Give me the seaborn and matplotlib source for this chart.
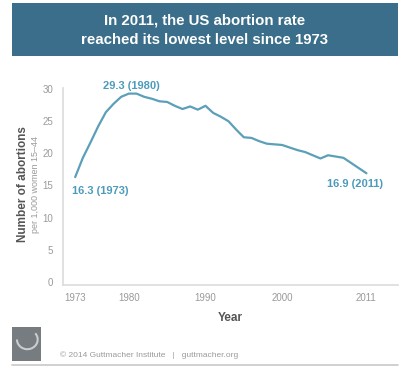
import pandas as pd
import matplotlib.pyplot as plt
import matplotlib.patches as mpatches
import seaborn as sns

# abortion rate per 1,000 women 15-44
years = list(range(1973, 2012))
rates = [16.3, 19.3, 21.7, 24.2, 26.4, 27.7, 28.8, 29.3, 29.3, 28.8,
         28.5, 28.1, 28.0, 27.4, 26.9, 27.3, 26.8, 27.4, 26.3, 25.7,
         25.0, 23.7, 22.5, 22.4, 21.9, 21.5, 21.4, 21.3, 20.9, 20.5,
         20.2, 19.7, 19.2, 19.7, 19.5, 19.3, 18.5, 17.7, 16.9]
xticks = [1973, 1980, 1990, 2000, 2011]
yticks = [0, 5, 10, 15, 20, 25, 30]
callouts = [(1980, 29.3), (1973, 16.3), (2011, 16.9)]

df = pd.DataFrame({"year": years, "rate": rates})

sns.set_style("white")
plt.rcParams['font.family'] = ['Liberation Sans', 'DejaVu Sans']

line_col = "#5c9fb8"
lab_col = "#4c9bbb"
grey = "#9a9a9a"

fig = plt.figure(figsize=(4.14, 3.88), dpi=100)
ax = fig.add_axes([0.152, 0.2655, 0.809, 0.5065])

sns.lineplot(data=df, x="year", y="rate", color=line_col, lw=1.6, ax=ax)

ax.set_xlim(1971.4, 2015.1)
ax.set_ylim(-0.5, 30.1)
ax.set_xticks(xticks)
ax.set_yticks(yticks)
ax.tick_params(axis="both", colors=grey, labelsize=7, length=0, pad=6)
ax.tick_params(axis="y", direction="in", length=3.5, width=0.7, pad=7, color="#dcdcdc")
for s in ["top", "right"]:
    ax.spines[s].set_visible(False)
for s in ["left", "bottom"]:
    ax.spines[s].set_color("#dcdcdc")
    ax.spines[s].set_linewidth(1.2)

ax.set_xlabel("Year", fontsize=8.5, fontweight="bold", color="#555555", labelpad=6)
ax.set_ylabel("")
fig.text(0.056, 0.525, "Number of abortions", rotation=90, ha="center", va="center",
         fontsize=8.5, fontweight="bold", color="#555555")
fig.text(0.085, 0.525, "per 1,000 women 15\u201344", rotation=90, ha="center", va="center",
         fontsize=6.5, color=grey)

# callout labels
ax.annotate(f"{callouts[0][1]} ({callouts[0][0]})", callouts[0], xytext=(2, 5.5),
            textcoords="offset points", ha="center", va="center",
            fontsize=8, fontweight="bold", color=lab_col)
ax.annotate(f"{callouts[1][1]} ({callouts[1][0]})", callouts[1], xytext=(-2, -10),
            textcoords="offset points", ha="left", va="center",
            fontsize=8, fontweight="bold", color=lab_col)
ax.annotate(f"{callouts[2][1]} ({callouts[2][0]})", callouts[2], xytext=(12, -7.5),
            textcoords="offset points", ha="right", va="center",
            fontsize=8, fontweight="bold", color=lab_col)

# title banner
fig.patches.append(mpatches.Rectangle((0.029, 0.856), 0.932, 0.136, transform=fig.transFigure,
                                      facecolor="#3a6e8a", edgecolor="none"))
fig.text(0.495, 0.922, "In 2011, the US abortion rate\nreached its lowest level since 1973",
         ha="center", va="center", color="white", fontsize=10.8, fontweight="bold",
         linespacing=1.45)

# footer
fig.patches.append(mpatches.Rectangle((0.029, 0.07), 0.07, 0.088, transform=fig.transFigure,
                                      facecolor="#767c7f", edgecolor="none"))
fig.patches.append(mpatches.Arc((0.066, 0.125), 0.05, 0.05, theta1=180, theta2=40,
                                transform=fig.transFigure, color="#c9cdcf", lw=1.5))
fig.text(0.145, 0.085, "\u00a9 2014 Guttmacher Institute   |   guttmacher.org",
         ha="left", va="center", fontsize=6, color=grey)
fig.add_artist(plt.Line2D([0.029, 0.961], [0.06, 0.06], color="#c8c8c8", lw=1.2))

fig.savefig("out.png", dpi=100)
